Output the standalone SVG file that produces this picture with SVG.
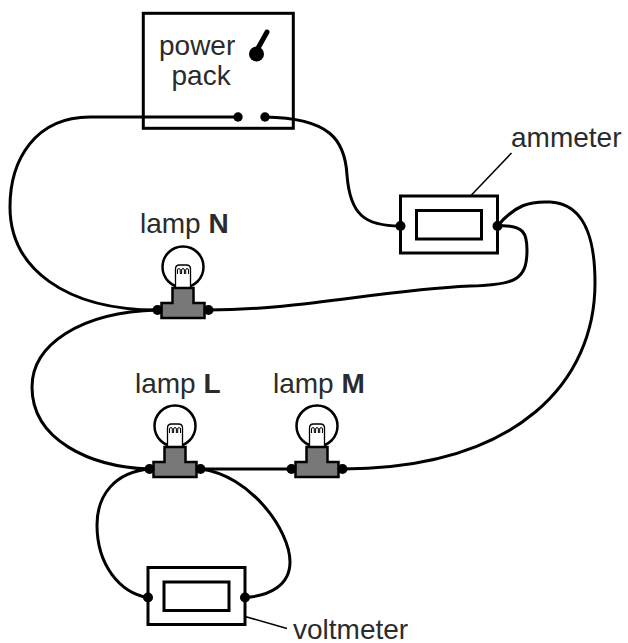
<svg xmlns="http://www.w3.org/2000/svg" xmlns:xlink="http://www.w3.org/1999/xlink" width="628" height="643" viewBox="0 0 628 643">
<style>
.lbl{font-family:"Liberation Sans",Arial,sans-serif;font-size:28px;fill:#2b2b2b}
.b{font-weight:bold}
.wire{fill:none;stroke:#000;stroke-width:3;stroke-linecap:round}
.box{fill:none;stroke:#000;stroke-width:3}
.lead{fill:none;stroke:#000;stroke-width:1.5}
.dot{fill:#000}
</style>
<defs>
<g id="lampShape">
<circle cx="0" cy="-43" r="20.5" fill="#fff" stroke="#000" stroke-width="2.5"/>
<path d="M -7.5 -22 V -41 Q -7.5 -45 -3.5 -45 H 3.5 Q 7.5 -45 7.5 -41 V -22" fill="#fff" stroke="#000" stroke-width="1.3"/>
<path d="M -5.5 -36 v -4 a 1.4 1.4 0 0 1 2.8 0 v 4 M -1.4 -36 v -4 a 1.4 1.4 0 0 1 2.8 0 v 4 M 2.7 -36 v -4 a 1.4 1.4 0 0 1 2.8 0 v 4" fill="none" stroke="#000" stroke-width="1"/>
<polygon points="-10.5,-22 10.5,-22 10.5,-7 21.5,-7 21.5,8 -21.5,8 -21.5,-7 -10.5,-7" fill="#787878" stroke="#000" stroke-width="2.5" stroke-linejoin="miter"/>
<circle class="dot" cx="-25.5" cy="0" r="5"/>
<circle class="dot" cx="25.5" cy="0" r="5"/>
</g>
<g id="meterShape">
<rect x="0" y="0" width="97" height="57" fill="#fff" stroke="#000" stroke-width="3"/>
<rect x="16" y="14.5" width="65" height="28.5" fill="#fff" stroke="#000" stroke-width="3"/>
<circle class="dot" cx="0" cy="30" r="5"/>
<circle class="dot" cx="97" cy="30" r="5"/>
</g>
</defs>

<g id="power-pack">
<rect class="box" x="143.3" y="13.3" width="150" height="115"/>
<text class="lbl" x="159" y="55">power</text>
<text class="lbl" x="171.5" y="85">pack</text>
<line x1="257" y1="50" x2="267" y2="32" stroke="#000" stroke-width="5" stroke-linecap="round"/>
<circle cx="256.5" cy="54" r="7.5" fill="#000"/>
<circle class="dot" cx="238" cy="117" r="4.7"/>
<circle class="dot" cx="265" cy="117" r="4.7"/>
</g>

<g id="ammeter">
<use xlink:href="#meterShape" href="#meterShape" x="400.5" y="196"/>
<line class="lead" x1="470.5" y1="196" x2="511.5" y2="153"/>
<text class="lbl" x="511" y="147">ammeter</text>
</g>

<g id="voltmeter">
<use xlink:href="#meterShape" href="#meterShape" x="148" y="567.5"/>
<line class="lead" x1="245" y1="616.5" x2="287" y2="628.5"/>
<text class="lbl" x="293" y="638.5">voltmeter</text>
</g>

<g id="lamp-N">
<use xlink:href="#lampShape" href="#lampShape" x="183" y="310"/>
<text class="lbl" x="140" y="233">lamp <tspan class="b">N</tspan></text>
</g>

<g id="lamp-L">
<use xlink:href="#lampShape" href="#lampShape" x="175" y="469"/>
<text class="lbl" x="135" y="393">lamp <tspan class="b">L</tspan></text>
</g>

<g id="lamp-M">
<use xlink:href="#lampShape" href="#lampShape" x="317" y="469"/>
<text class="lbl" x="273" y="393">lamp <tspan class="b">M</tspan></text>
</g>

<g id="connectors">
<path class="wire" d="M 238 117 L 90 117 C 35 117 10 160 10 207 C 10 268 65 310 157.5 310"/>
<path class="wire" d="M 265 117 C 330 118 345 140 347 175 C 350 215 365 226 400.5 226"/>
<path class="wire" d="M 497.5 226 C 515 205 530 201 550 202 C 590 204 595 250 595 283 C 595 380 520 468 342.5 469"/>
<path class="wire" d="M 497.5 226 C 525 224 527 235 527 250 C 527 280 515 285 470 286 C 380 290 300 310 208.5 310"/>
<path class="wire" d="M 157.5 310 C 80 312 32 345 32 387 C 32 440 90 467 149.5 469"/>
<path class="wire" d="M 200.5 469 L 291.5 469"/>
<path class="wire" d="M 149.5 469 C 115 472 97 495 97 525 C 97 565 120 593 148 597.5"/>
<path class="wire" d="M 200.5 469 C 250 475 290 530 290 562 C 290 585 270 596 245 597.5"/>
</g>
</svg>
